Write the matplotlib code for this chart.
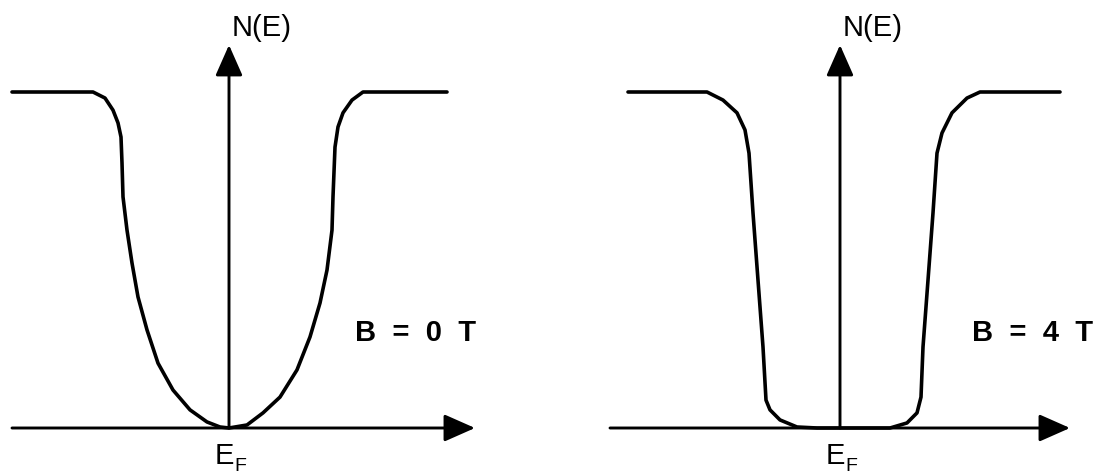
import numpy as np
import matplotlib.pyplot as plt

plt.rcParams['font.family'] = ['Liberation Sans', 'DejaVu Sans']

# density of states vs energy (E relative to E_F, N normalised to the plateau)
E_b0 = [-2.17, -1.36, -1.24, -1.16, -1.11, -1.08, -1.07, -1.06, -1.02, -0.97,
        -0.91, -0.82, -0.71, -0.56, -0.39, -0.22, -0.09, 0.0,
        0.18, 0.34, 0.51, 0.68, 0.81, 0.91, 0.98, 1.03, 1.04, 1.06, 1.09,
        1.14, 1.23, 1.34, 2.18]
N_b0 = [1.0, 1.0, 0.982, 0.946, 0.908, 0.866, 0.789, 0.688, 0.589, 0.491,
        0.390, 0.292, 0.193, 0.113, 0.054, 0.018, 0.003, 0.0,
        0.009, 0.045, 0.092, 0.173, 0.271, 0.372, 0.470, 0.589, 0.688, 0.836, 0.896,
        0.938, 0.976, 1.0, 1.0]

E_b4 = [-2.12, -1.33, -1.17, -1.03, -0.95, -0.91, -0.87, -0.82, -0.77, -0.74,
        -0.70, -0.60, -0.43, -0.23, 0.0, 0.50, 0.67, 0.77, 0.81, 0.83, 0.88,
        0.93, 0.97, 1.02, 1.12, 1.27, 1.40, 2.20]
N_b4 = [1.0, 1.0, 0.976, 0.938, 0.887, 0.818, 0.640, 0.440, 0.241, 0.083,
        0.054, 0.024, 0.003, 0.0, 0.0, 0.0, 0.015, 0.045, 0.092, 0.241, 0.440,
        0.640, 0.818, 0.878, 0.938, 0.982, 1.0, 1.0]

field_labels = ["B  =  0  T", "B  =  4  T"]

# pixel scale of the sketch: px per energy unit, px per unit of N
SX, SY = 100.0, 336.0
W, H = 1107, 474
BASE_Y = 428


def setup_panel(fig, rect, x0):
    ax = fig.add_axes(rect)
    left_px = rect[0] * W
    right_px = (rect[0] + rect[2]) * W
    ax.set_xlim((left_px - x0) / SX, (right_px - x0) / SX)
    ax.set_ylim((BASE_Y - H) / SY, BASE_Y / SY)
    ax.axis('off')
    return ax


def draw_axes(ax, e_min, e_max, n_max):
    arrow = dict(arrowstyle='-|>,head_length=0.95,head_width=0.42',
                 mutation_scale=20, lw=2.1, color='black',
                 shrinkA=0, shrinkB=0)
    ax.annotate('', xy=(e_max, 0), xytext=(e_min, 0), arrowprops=arrow)
    ax.annotate('', xy=(0, n_max), xytext=(0, 0), arrowprops=arrow)
    ax.text(0.03, 1.19, 'N(E)', fontsize=21, ha='left', va='center')
    # E_F label, subscript set low like the hand-lettered original
    ax.text(-0.14, -0.042, 'E', fontsize=21, ha='left', va='top')
    ax.text(0.05, -0.128, 'F', fontsize=14, ha='left', va='baseline')


fig = plt.figure(figsize=(W / 100, H / 100), dpi=100)
fig.patch.set_facecolor('white')

ax1 = setup_panel(fig, [0.0, 0.0, 0.5, 1.0], 229)
draw_axes(ax1, -2.17, 2.46, 1.14)
ax1.plot(E_b0, N_b0, color='black', lw=2.6, solid_joinstyle='round',
         solid_capstyle='round')
ax1.text(1.26, 0.283, field_labels[0], fontsize=21, fontweight='bold',
         ha='left', va='center')

ax2 = setup_panel(fig, [0.5, 0.0, 0.5, 1.0], 840)
draw_axes(ax2, -2.30, 2.30, 1.14)
ax2.plot(E_b4, N_b4, color='black', lw=2.6, solid_joinstyle='round',
         solid_capstyle='round')
ax2.text(1.32, 0.283, field_labels[1], fontsize=21, fontweight='bold',
         ha='left', va='center')

fig.savefig('out.png', dpi=100, facecolor='white')
